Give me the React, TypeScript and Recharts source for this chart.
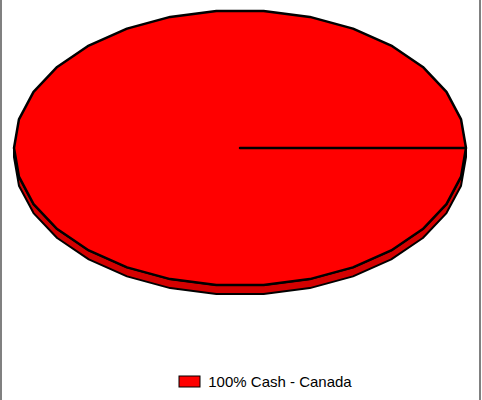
import { PieChart, Pie, Cell, Legend } from 'recharts';

const labels = ['100% Cash - Canada'];
const values = [100];
const colors = ['#ff0000'];
const sideColors = ['#d40000'];

const data = labels.map((name, i) => ({ name, value: values[i] }));

const RY_RATIO = 0.61;
const DEPTH = 9;
const STEP = 12;

// elliptical "3d" sector built from the library's own sector geometry
const EllipseSector = (props: any) => {
  const { cx, cy, outerRadius, startAngle, endAngle, fill, index } = props;
  const rx = outerRadius;
  const ry = outerRadius * RY_RATIO;
  const pt = (a: number, dy = 0) => {
    const r = (a * Math.PI) / 180;
    return [cx + rx * Math.cos(r), cy - ry * Math.sin(r) + dy];
  };
  const angles: number[] = [];
  const lo = Math.min(startAngle, endAngle);
  const hi = Math.max(startAngle, endAngle);
  for (let a = lo; a < hi; a += STEP) angles.push(a);
  angles.push(hi);

  // side wall: only the front half (180..360) is visible
  const frontAngles = angles.filter((a) => a >= 180 && a <= 360);
  if (!frontAngles.includes(180)) frontAngles.unshift(180);
  if (!frontAngles.includes(360)) frontAngles.push(360);
  const topEdge = frontAngles.map((a) => pt(a));
  const botEdge = frontAngles.map((a) => pt(a, DEPTH)).reverse();
  const side =
    'M' + [...topEdge, ...botEdge].map((p) => p.join(',')).join('L') + 'Z';

  const face =
    `M${cx},${cy}L` + angles.map((a) => pt(a).join(',')).join('L') + 'Z';

  return (
    <g>
      <path d={side} fill={sideColors[index] ?? fill} stroke="#000" strokeWidth={2} strokeLinejoin="round" />
      <path d={face} fill={fill} stroke="#000" strokeWidth={2.5} strokeLinejoin="round" />
    </g>
  );
};

const renderLegend = (props: any) => {
  const { payload } = props;
  return (
    <div style={{ display: 'flex', justifyContent: 'center', marginLeft: 48 }}>
      {(payload || []).map((entry: any) => (
        <div key={entry.value} style={{ display: 'flex', alignItems: 'center' }}>
          <svg width={24} height={14} style={{ marginRight: 6 }}>
            <rect x={1} y={1} width={21} height={11} fill={entry.color} stroke="#000" strokeWidth={1} />
          </svg>
          <span style={{ fontFamily: '"Liberation Sans", Arial, sans-serif', fontSize: 15, color: '#000' }}>
            {entry.value}
          </span>
        </div>
      ))}
    </div>
  );
};

const App = () => {
  return (
    <div
      style={{
        position: 'fixed',
        left: 0,
        top: 0,
        width: 482,
        height: 400,
        background: '#fff',
      }}
    >
      <div style={{ position: 'absolute', left: 0, top: 0, width: 2, height: 400, background: '#808080' }} />
      <div style={{ position: 'absolute', left: 479, top: 0, width: 2, height: 400, background: '#808080' }} />
      <PieChart width={482} height={400} margin={{ top: 0, right: 0, bottom: 0, left: 0 }}>
        <Pie
          data={data}
          dataKey="value"
          nameKey="name"
          cx={240}
          cy={148}
          outerRadius={226}
          startAngle={0}
          endAngle={360}
          stroke="#000"
          shape={EllipseSector}
          inactiveShape={EllipseSector}
          activeShape={EllipseSector}
          isAnimationActive={false}
        >
          {data.map((d, i) => (
            <Cell key={d.name} fill={colors[i]} />
          ))}
        </Pie>
        <Legend
          verticalAlign="bottom"
          content={renderLegend}
          wrapperStyle={{ bottom: 10 }}
        />
      </PieChart>
    </div>
  );
};

export default App;
